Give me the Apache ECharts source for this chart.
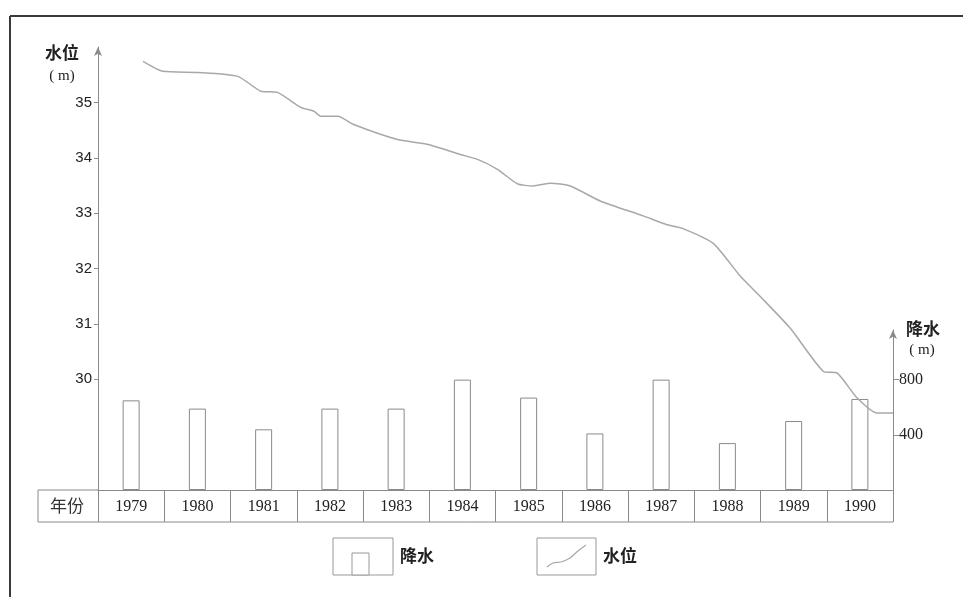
<!DOCTYPE html>
<html>
<head>
<meta charset="utf-8">
<title>水位与降水</title>
<script src="https://cdn.jsdelivr.net/npm/echarts@6/dist/echarts.min.js"></script>
<style>
  html, body { margin: 0; padding: 0; background: #fff; }
  #main { width: 963px; height: 597px; }
</style>
</head>
<body>
<div id="main"></div>
<script>
// 年份（表格中的类目）
var years = ['1979', '1980', '1981', '1982', '1983', '1984', '1985', '1986', '1987', '1988', '1989', '1990'];
// 降水 (m)，从柱高估读
var rain = [650, 590, 440, 590, 590, 800, 670, 410, 800, 340, 500, 660];
// 水位曲线：横坐标为年份（小数），纵坐标为水位 (m)
var levelT = [1979.18, 1979.48, 1980.01, 1980.61, 1980.96, 1981.21, 1981.56, 1981.76, 1981.86, 1982.12,
              1982.36, 1983.02, 1983.48, 1983.97, 1984.23, 1984.53, 1984.83, 1985.07, 1985.33, 1985.63,
              1986.08, 1986.73, 1987.09, 1987.33, 1987.79, 1988.19, 1988.50, 1988.95, 1989.45, 1989.66,
              1989.96, 1990.26, 1990.50];
var levelV = [35.74, 35.56, 35.54, 35.47, 35.20, 35.18, 34.91, 34.84, 34.75, 34.75,
              34.60, 34.33, 34.24, 34.06, 33.97, 33.79, 33.53, 33.49, 33.54, 33.49,
              33.22, 32.95, 32.79, 32.72, 32.45, 31.87, 31.49, 30.92, 30.14, 30.11,
              29.66, 29.39, 29.39];
// 坐标轴刻度
var levelTicks = [30, 31, 32, 33, 34, 35];
var rainTicks = [400, 800];

var levelData = levelT.map(function (t, i) { return [t, levelV[i]]; });

var chart = echarts.init(document.getElementById('main'));

var axisGray = '#8a8a8a';
var textColor = '#222';
var cjk = '"Noto Sans CJK SC", sans-serif';
var serif = '"Liberation Serif", "DejaVu Serif", serif';

var option = {
    backgroundColor: '#fff',
    animation: false,
    grid: [
        { left: 98, right: 70, top: 47, bottom: 107 },
        { left: 98, right: 70, top: 330, bottom: 107 }
    ],
    xAxis: [
        { type: 'value', gridIndex: 0, min: 1978.5, max: 1990.5, show: false },
        {
            type: 'category', gridIndex: 1, data: years, boundaryGap: true,
            axisLine: { show: true, lineStyle: { color: axisGray, width: 1 } },
            axisTick: { show: true, length: 32, lineStyle: { color: axisGray, width: 1 } },
            axisLabel: { margin: 9, color: textColor, fontFamily: serif, fontSize: 16 }
        }
    ],
    yAxis: [
        {
            type: 'value', gridIndex: 0, min: 28, max: 36,
            splitLine: { show: false },
            axisLine: { show: true, symbol: ['none', 'arrow'], symbolSize: [6, 9],
                        lineStyle: { color: axisGray, width: 1 } },
            axisTick: { show: true, length: 4, customValues: levelTicks, lineStyle: { color: axisGray } },
            axisLabel: { customValues: levelTicks, margin: 6, color: textColor,
                         fontFamily: '"Liberation Sans", sans-serif', fontSize: 15 }
        },
        {
            type: 'value', gridIndex: 1, position: 'right', min: 0, max: 1160,
            splitLine: { show: false },
            axisLine: { show: true, symbol: ['none', 'arrow'], symbolSize: [6, 9],
                        lineStyle: { color: axisGray, width: 1 } },
            axisTick: { show: true, length: 6, customValues: rainTicks, lineStyle: { color: axisGray } },
            axisLabel: { customValues: rainTicks, margin: 6, color: textColor,
                         fontFamily: serif, fontSize: 16 }
        }
    ],
    series: [
        {
            name: '降水', type: 'bar', xAxisIndex: 1, yAxisIndex: 1,
            data: rain, barWidth: 17,
            itemStyle: { color: '#fff', borderColor: '#8a8a8a', borderWidth: 1 }
        },
        {
            name: '水位', type: 'line', xAxisIndex: 0, yAxisIndex: 0,
            data: levelData, smooth: 0.2, showSymbol: false,
            lineStyle: { color: '#a8a8a8', width: 1.5 }
        }
    ],
    graphic: [
        // 外框（上、左）
        { type: 'line', shape: { x1: 10, y1: 16, x2: 963, y2: 16 }, style: { stroke: '#3a3a3a', lineWidth: 2 } },
        { type: 'line', shape: { x1: 10, y1: 16, x2: 10, y2: 597 }, style: { stroke: '#3a3a3a', lineWidth: 2 } },
        // 轴名
        { type: 'text', x: 62, y: 53, style: { text: '水位', fill: textColor, font: 'bold 17px ' + cjk, align: 'center', verticalAlign: 'middle' } },
        { type: 'text', x: 62, y: 76, style: { text: '( m)', fill: textColor, font: '15px ' + serif, align: 'center', verticalAlign: 'middle' } },
        { type: 'text', x: 923, y: 329, style: { text: '降水', fill: textColor, font: 'bold 17px ' + cjk, align: 'center', verticalAlign: 'middle' } },
        { type: 'text', x: 922, y: 350, style: { text: '( m)', fill: textColor, font: '15px ' + serif, align: 'center', verticalAlign: 'middle' } },
        // 表格
        { type: 'line', shape: { x1: 38, y1: 490, x2: 98, y2: 490 }, style: { stroke: axisGray, lineWidth: 1 } },
        { type: 'line', shape: { x1: 38, y1: 522, x2: 893, y2: 522 }, style: { stroke: axisGray, lineWidth: 1 } },
        { type: 'line', shape: { x1: 38, y1: 490, x2: 38, y2: 522 }, style: { stroke: axisGray, lineWidth: 1 } },
        { type: 'text', x: 67, y: 506, style: { text: '年份', fill: '#333', font: '17px ' + cjk, align: 'center', verticalAlign: 'middle' } },
        // 图例
        { type: 'rect', shape: { x: 333, y: 538, width: 60, height: 37 }, style: { fill: '#fff', stroke: '#999', lineWidth: 1 } },
        { type: 'rect', shape: { x: 352, y: 553, width: 17, height: 22 }, style: { fill: '#fff', stroke: '#999', lineWidth: 1 } },
        { type: 'text', x: 400, y: 556, style: { text: '降水', fill: textColor, font: 'bold 17px ' + cjk, verticalAlign: 'middle' } },
        { type: 'rect', shape: { x: 537, y: 538, width: 59, height: 37 }, style: { fill: '#fff', stroke: '#999', lineWidth: 1 } },
        { type: 'polyline', shape: { points: [[547, 567], [553, 563], [561, 562], [570, 558], [578, 551], [586, 545]], smooth: 0.4 },
          style: { stroke: '#a8a8a8', lineWidth: 1.2, fill: null } },
        { type: 'text', x: 603, y: 556, style: { text: '水位', fill: textColor, font: 'bold 17px ' + cjk, verticalAlign: 'middle' } }
    ]
};

chart.setOption(option);
</script>
</body>
</html>
